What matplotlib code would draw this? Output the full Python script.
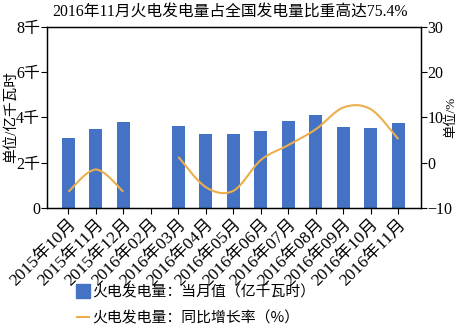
import numpy as np
import matplotlib
matplotlib.use("Agg")
import matplotlib.pyplot as plt
from matplotlib.path import Path
from matplotlib.patches import PathPatch
from matplotlib.lines import Line2D
from matplotlib.ticker import FixedLocator, FuncFormatter

plt.rcParams["font.family"] = ["Liberation Serif", "Noto Sans CJK SC"]
plt.rcParams["axes.unicode_minus"] = True

months = ["2015年10月", "2015年11月", "2015年12月", "2016年02月", "2016年03月",
          "2016年04月", "2016年05月", "2016年06月", "2016年07月", "2016年08月",
          "2016年09月", "2016年10月", "2016年11月"]
# 当月值（亿千瓦时）, 2016-02 has no data
monthly = [3080, 3480, 3800, np.nan, 3630, 3260, 3260, 3420, 3840, 4110, 3570, 3530, 3760]
# 同比增长率（%）
growth = [-6.4, -1.5, -6.4, np.nan, 1.3, -5.4, -6.2, 0.6, 3.9, 7.4, 12.2, 11.8, 5.2]

BAR_COLOR = "#4472C4"
LINE_COLOR = "#EBAE4C"


def smooth_path(xs, ys):
    """Catmull-Rom style smooth curve through the points, as a Bezier path."""
    pts = np.column_stack([xs, ys])
    verts = [pts[0]]
    codes = [Path.MOVETO]
    n = len(pts)
    for i in range(n - 1):
        p0 = pts[i - 1] if i > 0 else pts[i]
        p1, p2 = pts[i], pts[i + 1]
        p3 = pts[i + 2] if i + 2 < n else pts[i + 1]
        c1 = p1 + (p2 - p0) / 6
        c2 = p2 - (p3 - p1) / 6
        verts += [c1, c2, p2]
        codes += [Path.CURVE4] * 3
    return Path(verts, codes)


fig = plt.figure(figsize=(4.6, 3.24), dpi=100)
ax = fig.add_axes([0.102, 0.358, 0.813, 0.559])
ax2 = ax.twinx()

x = np.arange(len(months))
ax.bar(x, monthly, width=0.48, color=BAR_COLOR, zorder=2)
ax.set_xlim(-0.78, 12.82)
ax.set_ylim(0, 8000)
ax.yaxis.set_major_locator(FixedLocator([0, 2000, 4000, 6000, 8000]))
ax.yaxis.set_major_formatter(FuncFormatter(lambda v, p: "0" if v == 0 else f"{int(v / 1000)}千"))
ax.set_xticks(x)
ax.set_xticklabels(months, rotation=45, ha="right", rotation_mode="anchor")
ax.set_ylabel("单位/亿千瓦时", fontsize=10.5)
ax.yaxis.set_label_coords(-0.078, 0.5)

# growth line, broken where data is missing
g = np.array(growth)
seg = []
for i in range(len(g) + 1):
    if i < len(g) and not np.isnan(g[i]):
        seg.append(i)
    elif seg:
        ax2.add_patch(PathPatch(smooth_path(x[seg], g[seg]), facecolor="none",
                                edgecolor=LINE_COLOR, lw=1.5, zorder=3))
        seg = []
ax2.set_ylim(-10, 30)
ax2.set_yticks([-10, 0, 10, 20, 30])
ax2.set_ylabel("单位/%", fontsize=9.5)
ax2.yaxis.set_label_coords(1.064, 0.5)

for a in (ax, ax2):
    a.tick_params(labelsize=11.5, length=4, width=0.8, direction="out", pad=1)
    for s in a.spines.values():
        s.set_linewidth(0.9)
ax.tick_params(axis="x", labelsize=12.5, pad=2)
ax2.tick_params(axis="y", pad=0.5)

fig.text(0.5, 0.965, "2016年11月火电发电量占全国发电量比重高达75.4%",
         ha="center", va="center", fontsize=11.3)

handles = [
    Line2D([], [], marker="s", markersize=10, color=BAR_COLOR, lw=0),
    Line2D([], [], color=LINE_COLOR, lw=1.5),
]
fig.legend(handles, ["火电发电量：当月值（亿千瓦时）", "火电发电量：同比增长率（%）"],
           loc="upper left", bbox_to_anchor=(0.168, 0.121), frameon=False,
           prop={"family": ["Noto Sans CJK SC"], "size": 10.7},
           handlelength=0.8, handletextpad=0.2, labelspacing=0.78,
           borderaxespad=0, borderpad=0)

fig.savefig("out.png", dpi=100)
